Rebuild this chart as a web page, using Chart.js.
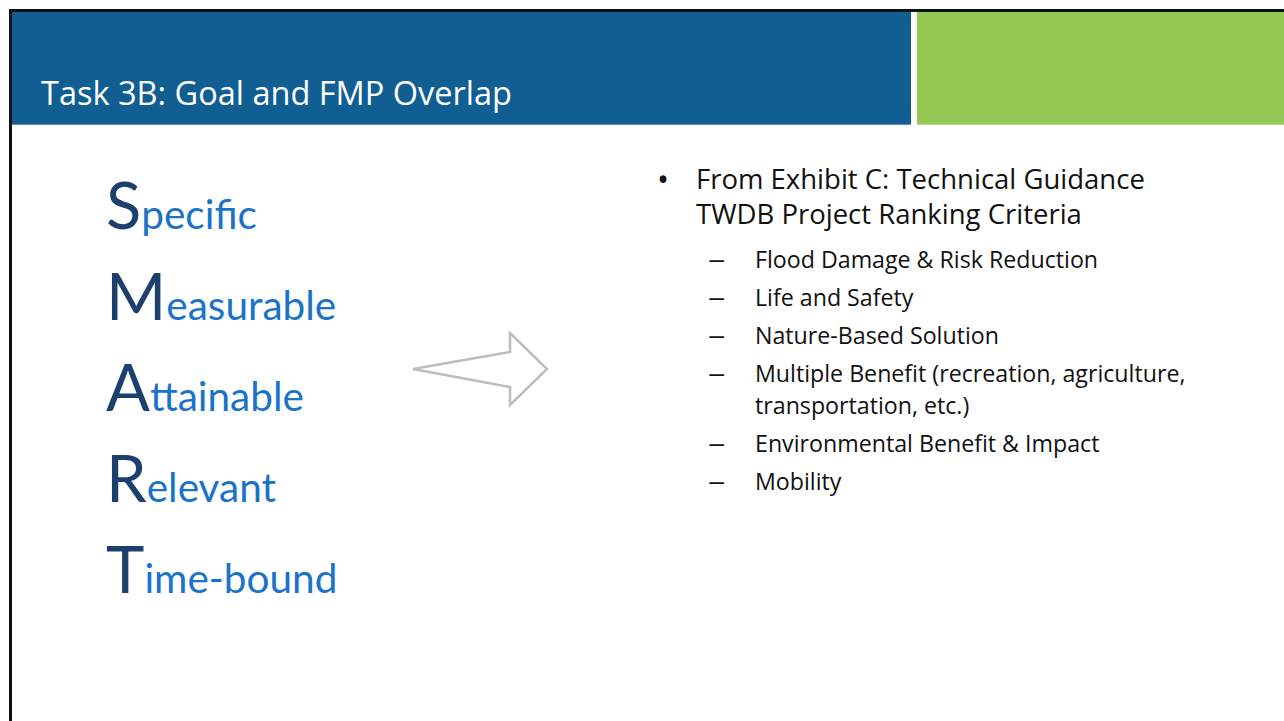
<!DOCTYPE html>
<html>
<head>
<meta charset="utf-8">
<script src="https://cdn.jsdelivr.net/npm/chart.js@4.4.1/dist/chart.umd.min.js"></script>
<style>
  html, body { margin: 0; padding: 0; }
  body { width: 1284px; height: 721px; overflow: hidden; background: #fff; position: relative; font-family: Lato, "Open Sans", sans-serif; }
  .edge-top { position: absolute; left: 9px; top: 9px; right: 0; height: 3px; background: #111; }
  .edge-left { position: absolute; left: 9px; top: 9px; width: 3px; bottom: 0; background: #111; }
  .bar-blue { position: absolute; left: 12px; top: 12px; width: 899px; height: 112px; background: #115e93; border-bottom: 1px solid #5b8fbd; }
  .bar-green { position: absolute; left: 917px; top: 12px; right: 0; height: 112px; background: #93c952; border-bottom: 1px solid #b6db8e; }
  .title { position: absolute; left: 41px; top: 73px; color: #fff; font-family: "Open Sans", sans-serif; font-size: 32.5px; line-height: 40px; white-space: nowrap; }
  .smart { position: absolute; left: 106px; white-space: nowrap; line-height: 1; }
  .smart .cap { font-size: 65px; color: #1c3f6e; }
  .smart .rest { font-size: 40.5px; color: #1a73c9; }
  #arrow { position: absolute; left: 400px; top: 320px; }
  .list { position: absolute; left: 657px; top: 161px; color: #111; font-family: "Open Sans", sans-serif; }
  .list .main { position: relative; padding-left: 39px; font-size: 27.5px; line-height: 35px; }
  .list .main::before { content: "\2022"; position: absolute; left: 0; font-size: 32px; }
  .list .sub { position: relative; padding-left: 98px; font-size: 23.2px; line-height: 32px; margin-top: 6px; width: 452px; }
  .list .sub.first { margin-top: 12px; }
  .list .sub::before { content: "\2013"; position: absolute; left: 51px; transform: scaleX(1.5); transform-origin: left center; }
</style>
</head>
<body>
<div class="edge-top"></div>
<div class="edge-left"></div>
<div class="bar-blue"></div>
<div class="bar-green"></div>
<div class="title" id="title"></div>
<div id="smartBox"></div>
<canvas id="arrow" width="160" height="100"></canvas>
<div class="list" id="list"></div>
<script>
const slideTitle = 'Task 3B: Goal and FMP Overlap';
const smartWords = ['Specific', 'Measurable', 'Attainable', 'Relevant', 'Time-bound'];
const mainBullet = ['From Exhibit C: Technical Guidance', 'TWDB Project Ranking Criteria'];
const criteria = [
  'Flood Damage & Risk Reduction',
  'Life and Safety',
  'Nature-Based Solution',
  'Multiple Benefit (recreation, agriculture, transportation, etc.)',
  'Environmental Benefit & Impact',
  'Mobility'
];
// arrow outline, in the little chart's own units
const arrowX = [13, 110, 110, 147, 110, 110, 13];
const arrowY = [49, 32, 13, 49, 85, 67, 49];

document.getElementById('title').textContent = slideTitle;

const smartBox = document.getElementById('smartBox');
smartWords.forEach((w, i) => {
  const row = document.createElement('div');
  row.className = 'smart';
  row.style.top = (172 + i * 91) + 'px';
  const cap = document.createElement('span');
  cap.className = 'cap';
  cap.textContent = w[0];
  const rest = document.createElement('span');
  rest.className = 'rest';
  rest.textContent = w.slice(1);
  row.appendChild(cap);
  row.appendChild(rest);
  smartBox.appendChild(row);
});

const list = document.getElementById('list');
const main = document.createElement('div');
main.className = 'main';
main.innerHTML = mainBullet.join('<br>');
list.appendChild(main);
criteria.forEach((c, i) => {
  const d = document.createElement('div');
  d.className = i === 0 ? 'sub first' : 'sub';
  d.textContent = c;
  list.appendChild(d);
});

new Chart(document.getElementById('arrow'), {
  type: 'scatter',
  data: {
    datasets: [{
      data: arrowX.map((x, i) => ({ x: x, y: arrowY[i] })),
      showLine: true,
      borderColor: '#bdbdbd',
      borderWidth: 2.5,
      pointRadius: 0,
      tension: 0,
      fill: false
    }]
  },
  options: {
    responsive: false,
    animation: false,
    layout: { padding: 0 },
    plugins: { legend: { display: false }, tooltip: { enabled: false } },
    scales: {
      x: { type: 'linear', min: 0, max: 160, display: false },
      y: { type: 'linear', min: 0, max: 100, reverse: true, display: false }
    }
  }
});
</script>
</body>
</html>
